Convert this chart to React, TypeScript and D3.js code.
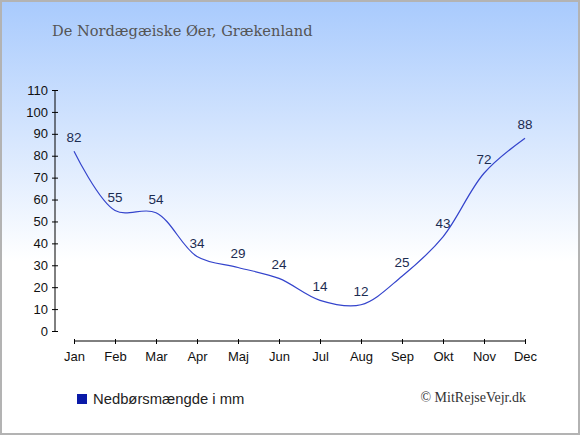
import React, { useEffect, useRef } from 'react';
import * as d3 from 'd3';

const months = ['Jan', 'Feb', 'Mar', 'Apr', 'Maj', 'Jun', 'Jul', 'Aug', 'Sep', 'Okt', 'Nov', 'Dec'];
const rainfall = [82, 55, 54, 34, 29, 24, 14, 12, 25, 43, 72, 88];
const yTicks = [0, 10, 20, 30, 40, 50, 60, 70, 80, 90, 100, 110];

const title = 'De Nordægæiske Øer, Grækenland';
const legendLabel = 'Nedbørsmængde i mm';
const credit = '© MitRejseVejr.dk';

const W = 580;
const H = 435;

const App: React.FC = () => {
  const svgRef = useRef<SVGSVGElement | null>(null);

  useEffect(() => {
    if (!svgRef.current) return;
    const svg = d3.select(svgRef.current);
    svg.selectAll('*').remove();

    const x = d3.scalePoint<string>().domain(months).range([74, 525]);
    const y = d3.scaleLinear().domain([0, 110]).range([331, 90]);

    // baggrund
    const grad = svg
      .append('defs')
      .append('linearGradient')
      .attr('id', 'bg')
      .attr('x1', '0%')
      .attr('y1', '0%')
      .attr('x2', '0%')
      .attr('y2', '100%');
    grad.append('stop').attr('offset', '0%').attr('stop-color', '#a8cafd');
    grad.append('stop').attr('offset', '60%').attr('stop-color', '#ffffff');
    grad.append('stop').attr('offset', '100%').attr('stop-color', '#ffffff');

    svg.append('rect').attr('width', W).attr('height', H).attr('fill', 'url(#bg)');
    svg
      .append('rect')
      .attr('x', 1)
      .attr('y', 1)
      .attr('width', W - 2)
      .attr('height', H - 2)
      .attr('fill', 'none')
      .attr('stroke', '#b3b3b3')
      .attr('stroke-width', 2);

    svg
      .append('text')
      .attr('x', 52)
      .attr('y', 36)
      .attr('font-family', 'DejaVu Serif')
      .attr('font-size', 14.6)
      .attr('fill', '#555')
      .text(title);

    // y-akse
    const yAxis = svg
      .append('g')
      .attr('transform', 'translate(55,0)')
      .call(d3.axisLeft(y).tickValues(yTicks).tickSize(0).tickPadding(7));
    yAxis.select('.domain').attr('d', `M0,${y(110)}V${y(0) + 1}`).attr('stroke', '#000');
    yAxis.selectAll('.tick line').attr('x1', -3).attr('x2', 3).attr('stroke', '#000');
    yAxis
      .selectAll('.tick text')
      .attr('font-family', 'Liberation Sans, Arial, sans-serif')
      .attr('font-size', 13)
      .attr('fill', '#111');

    // x-akse
    const xAxis = svg
      .append('g')
      .attr('transform', 'translate(0,341)')
      .call(d3.axisBottom(x).tickSize(0).tickPadding(11));
    xAxis.select('.domain').attr('d', `M${x('Jan')},0H${x('Dec')}`).attr('stroke', '#000');
    xAxis.selectAll('.tick line').attr('y1', -2).attr('y2', 3).attr('stroke', '#000');
    xAxis
      .selectAll('.tick text')
      .attr('font-family', 'Liberation Sans, Arial, sans-serif')
      .attr('font-size', 13)
      .attr('fill', '#111');

    const pts: [number, number][] = months.map((m, i) => [x(m) as number, y(rainfall[i])]);

    const line = d3.line().curve(d3.curveCatmullRom.alpha(0.5));
    svg
      .append('path')
      .attr('d', line(pts))
      .attr('fill', 'none')
      .attr('stroke', '#3444cc')
      .attr('stroke-width', 1.2);

    svg
      .append('g')
      .selectAll('text')
      .data(rainfall)
      .join('text')
      .attr('x', (_, i) => x(months[i]) as number)
      .attr('y', (d) => y(d) - 9)
      .attr('text-anchor', 'middle')
      .attr('font-family', 'Liberation Sans, Arial, sans-serif')
      .attr('font-size', 13.5)
      .attr('fill', '#1c2c52')
      .text((d) => d);

    // legende
    svg.append('rect').attr('x', 77).attr('y', 394).attr('width', 10).attr('height', 10).attr('fill', '#0a1aa8');
    svg
      .append('text')
      .attr('x', 93)
      .attr('y', 403.5)
      .attr('font-family', 'Liberation Sans, Arial, sans-serif')
      .attr('font-size', 14.8)
      .attr('fill', '#222')
      .text(legendLabel);

    svg
      .append('text')
      .attr('x', 526)
      .attr('y', 402)
      .attr('text-anchor', 'end')
      .attr('font-family', 'Liberation Serif, serif')
      .attr('font-size', 14)
      .attr('fill', '#333')
      .text(credit);
  }, []);

  return (
    <div style={{ position: 'absolute', left: 0, top: 0 }}>
      <svg ref={svgRef} width={W} height={H} style={{ display: 'block' }} />
    </div>
  );
};

export default App;
